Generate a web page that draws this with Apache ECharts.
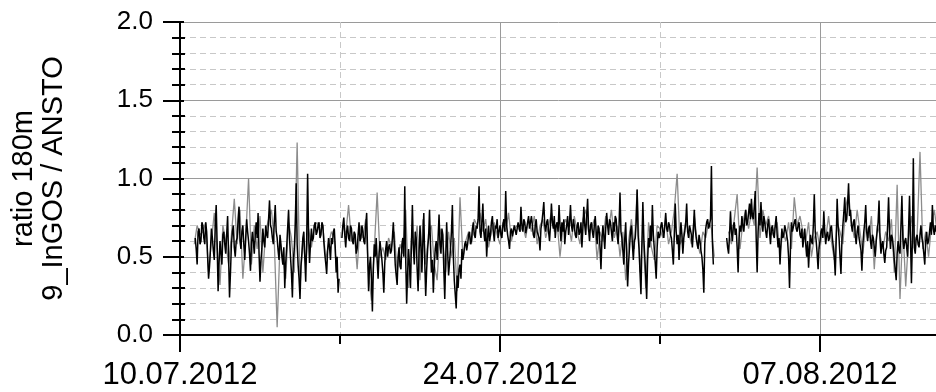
<!DOCTYPE html>
<html>
<head>
<meta charset="utf-8">
<script src="https://cdn.jsdelivr.net/npm/echarts@6/dist/echarts.min.js"></script>
<style>
  html, body { margin: 0; padding: 0; background: #ffffff; overflow: hidden; }
  #chart { width: 936px; height: 392px; }
</style>
</head>
<body>
<div id="chart"></div>
<script>
// Time axis is expressed in days since 10.07.2012 00:00.
const xTickLabels = ['10.07.2012', '24.07.2012', '07.08.2012'];
const yAxisTitle = 'ratio 180m\n9_InGOS / ANSTO';

// Black record: hourly, first value 10.07.2012 16:00 (gaps = null)
const blackStartDay = 16 / 24;
const blackStepDay = 1 / 24;
const blackValues = [
  0.62,0.55, 0.45,0.66, 0.68,0.58, 0.60,0.72,                                                                                          // 10.07
  0.70,0.62, 0.58,0.72, 0.66,0.50, 0.36,0.44, 0.55,0.68, 0.62,0.54, 0.48,0.70, 0.83,0.58, 0.28,0.46, 0.60,0.52, 0.45,0.64, 0.66,0.58,  // 11.07
  0.52,0.64, 0.76,0.50, 0.24,0.40, 0.58,0.66, 0.70,0.56, 0.50,0.60, 0.62,0.74, 0.82,0.60, 0.55,0.66, 0.70,0.58, 0.48,0.62, 0.74,0.66,  // 12.07
  0.60,0.52, 0.41,0.58, 0.66,0.60, 0.52,0.64, 0.72,0.62, 0.78,0.52, 0.34,0.48, 0.55,0.68, 0.60,0.56, 0.70,0.64, 0.62,0.74, 0.86,0.70,  // 13.07
  0.68,0.62, 0.58,0.72, 0.83,0.66, 0.62,0.54, 0.48,0.64, 0.58,0.50, 0.45,0.56, 0.30,0.46, 0.56,0.68, 0.80,0.62, 0.50,0.40, 0.24,0.48,  // 14.07
  0.55,0.70, 0.97,0.58, 0.45,0.36, 0.23,0.44, 0.52,0.62, 0.66,0.50, 0.34,0.60, 1.03,0.64, 0.46,0.58, 0.68,0.60, 0.62,0.70, 0.72,0.64,  // 15.07
  0.66,0.70, 0.72,0.62, 0.64,0.72, 0.70,0.60, 0.52,0.46, 0.39,0.54, 0.62,0.56, 0.48,0.62, 0.58,0.66, 0.68,0.56, 0.40,0.50, 0.27,0.36,  // 16.07
  null,null, 0.62,0.70, 0.75,0.64, 0.56,0.66, 0.70,0.62, 0.60,0.70, 0.68,0.60, 0.58,0.66, 0.64,0.52, 0.55,0.64, 0.72,0.60, 0.62,0.70,  // 17.07
  0.66,0.60, 0.58,0.70, 0.78,0.52, 0.28,0.44, 0.50,0.36, 0.15,0.42, 0.58,0.50, 0.62,0.48, 0.36,0.52, 0.60,0.54, 0.48,0.40, 0.27,0.46,  // 18.07
  0.55,0.60, 0.50,0.56, 0.58,0.52, 0.54,0.62, 0.72,0.58, 0.45,0.38, 0.32,0.50, 0.56,0.44, 0.42,0.58, 0.62,0.50, 0.95,0.48, 0.20,0.40,  // 19.07
  0.55,0.44, 0.30,0.58, 0.83,0.56, 0.45,0.66, 0.62,0.42, 0.28,0.52, 0.70,0.56, 0.40,0.60, 0.78,0.46, 0.25,0.42, 0.55,0.62, 0.80,0.58,  // 20.07
  0.40,0.48, 0.27,0.44, 0.55,0.60, 0.48,0.62, 0.77,0.58, 0.52,0.68, 0.64,0.42, 0.23,0.50, 0.72,0.54, 0.38,0.46, 0.55,0.66, 0.83,0.50,  // 21.07
  0.35,0.26, 0.17,0.38, 0.30,0.42, 0.45,0.36, 0.55,0.48, 0.52,0.58, 0.60,0.54, 0.58,0.64, 0.66,0.58, 0.60,0.68, 0.72,0.64, 0.62,0.70,  // 22.07
  0.68,0.74, 0.95,0.66, 0.62,0.72, 0.84,0.66, 0.60,0.68, 0.50,0.62, 0.70,0.60, 0.64,0.72, 0.76,0.66, 0.60,0.70, 0.68,0.74, 0.62,0.66,  // 23.07
  0.70,0.64, 0.62,0.70, 0.74,0.66, 0.92,0.70, 0.64,0.60, 0.55,0.66, 0.68,0.63, 0.62,0.70, 0.70,0.64, 0.65,0.72, 0.72,0.66, 0.82,0.70,  // 24.07
  0.66,0.74, 0.72,0.65, 0.64,0.72, 0.76,0.68, 0.68,0.76, 0.70,0.64, 0.62,0.70, 0.74,0.66, 0.66,0.62, 0.54,0.68, 0.72,0.78, 0.85,0.70,  // 25.07
  0.66,0.72, 0.74,0.66, 0.60,0.70, 0.84,0.72, 0.68,0.76, 0.62,0.70, 0.72,0.66, 0.83,0.70, 0.60,0.72, 0.66,0.74, 0.58,0.66, 0.70,0.76,  // 26.07
  0.64,0.72, 0.83,0.70, 0.66,0.74, 0.70,0.64, 0.62,0.70, 0.72,0.64, 0.66,0.72, 0.56,0.68, 0.82,0.70, 0.64,0.76, 0.87,0.68, 0.60,0.70,  // 27.07
  0.72,0.66, 0.62,0.70, 0.76,0.66, 0.58,0.70, 0.68,0.56, 0.42,0.60, 0.70,0.64, 0.55,0.68, 0.78,0.70, 0.64,0.74, 0.72,0.66, 0.60,0.72,  // 28.07
  0.66,0.76, 0.74,0.64, 0.58,0.70, 0.91,0.66, 0.62,0.54, 0.45,0.62, 0.72,0.50, 0.31,0.46, 0.56,0.66, 0.70,0.58, 0.48,0.60, 0.62,0.72,  // 29.07
  0.93,0.64, 0.55,0.40, 0.26,0.58, 0.85,0.62, 0.50,0.38, 0.23,0.48, 0.62,0.56, 0.70,0.60, 0.83,0.64, 0.55,0.46, 0.36,0.56, 0.66,0.62,  // 30.07
  0.64,0.70, 0.72,0.66, 0.62,0.70, 0.78,0.68, 0.66,0.72, 0.70,0.64, 0.62,0.54, 0.45,0.64, 0.84,0.66, 0.58,0.64, 0.48,0.62, 0.72,0.64,  // 31.07
  0.52,0.62, 0.66,0.72, 0.84,0.66, 0.62,0.70, 0.70,0.64, 0.56,0.66, 0.80,0.68, 0.62,0.58, 0.55,0.64, 0.60,0.54, 0.50,0.42, 0.27,0.58,  // 01.08
  0.68,0.72, 0.74,0.68, 0.70,0.74, 1.08,0.60, 0.45,null, null,null, null,null, null,null, null,null, null,null, null,null, 0.62,0.56,  // 02.08
  0.52,0.64, 0.79,0.66, 0.60,0.70, 0.72,0.64, 0.68,0.56, 0.40,0.62, 0.70,0.66, 0.76,0.70, 0.66,0.74, 0.80,0.70, 0.72,0.78, 0.84,0.74,  // 03.08
  0.87,0.76, 0.74,0.82, 0.92,0.62, 0.40,0.66, 0.78,0.70, 0.85,0.72, 0.66,0.76, 0.72,0.66, 0.62,0.70, 0.74,0.66, 0.58,0.68, 0.70,0.64,  // 04.08
  0.62,0.70, 0.76,0.64, 0.56,0.62, 0.45,0.58, 0.68,0.62, 0.64,0.70, 0.70,0.64, 0.60,0.50, 0.30,0.56, 0.72,0.66, 0.66,0.72, 0.74,0.68,  // 05.08
  0.66,0.70, 0.72,0.64, 0.62,0.68, 0.56,0.62, 0.68,0.58, 0.50,0.60, 0.43,0.56, 0.64,0.60, 0.58,0.70, 0.90,0.66, 0.60,0.52, 0.42,0.56,  // 06.08
  0.60,0.66, 0.68,0.62, 0.79,0.66, 0.58,0.64, 0.66,0.60, 0.62,0.68, 0.70,0.62, 0.56,0.50, 0.38,0.60, 0.87,0.70, 0.62,0.50, 0.39,0.60,  // 07.08
  0.70,0.78, 0.88,0.72, 0.74,0.84, 0.97,0.76, 0.80,0.70, 0.66,0.72, 0.74,0.64, 0.58,0.66, 0.70,0.62, 0.62,0.54, 0.41,0.58, 0.66,0.72,  // 08.08
  0.83,0.66, 0.60,0.68, 0.70,0.60, 0.55,0.64, 0.62,0.56, 0.50,0.60, 0.66,0.72, 0.86,0.62, 0.52,0.58, 0.60,0.52, 0.46,0.54, 0.56,0.70,  // 09.08
  0.88,0.66, 0.55,0.64, 0.62,0.56, 0.48,0.42, 0.35,0.52, 0.60,0.54, 0.52,0.70, 0.89,0.62, 0.55,0.60, 0.62,0.56, 0.50,0.68, 0.89,0.62,  // 10.08
  0.33,0.60, 1.13,0.56, 0.52,0.62, 0.64,0.58, 0.56,0.64, 0.70,0.62, 0.58,0.52, 0.45,0.60, 0.66,0.58, 0.60,0.66, 0.72,0.64, 0.83,0.68,  // 11.08
  0.64,0.70, 0.66,0.72                                                                                                                 // 12.08
];

// Grey record: 3-hourly, first value 10.07.2012 15:00 (gaps = null)
const greyStartDay = 15 / 24;
const greyStepDay = 3 / 24;
const greyValues = [
  0.58, 0.70, 0.64,                                   // 10.07
  0.66, 0.72, 0.40, 0.60, 0.78, 0.55, 0.32, 0.70,     // 11.07
  0.60, 0.45, 0.64, 0.87, 0.58, 0.80, 0.36, 0.62,     // 12.07
  1.00, 0.45, 0.70, 0.55, 0.76, 0.40, 0.66, 0.74,     // 13.07
  0.80, 0.60, 0.05, 0.58, 0.50, 0.36, 0.72, 0.62,     // 14.07
  0.40, 1.23, 0.30, 0.62, 0.45, 0.68, 0.56, 0.70,     // 15.07
  0.72, 0.66, 0.70, 0.48, 0.58, 0.66, 0.62, 0.36,     // 16.07
  null, 0.70, 0.64, 0.83, 0.60, 0.66, 0.42, 0.70,     // 17.07
  0.62, 0.74, 0.40, 0.22, 0.55, 0.91, 0.50, 0.56,     // 18.07
  0.48, 0.62, 0.56, 0.66, 0.40, 0.58, 0.52, 0.80,     // 19.07
  0.30, 0.62, 0.55, 0.70, 0.35, 0.74, 0.45, 0.65,     // 20.07
  0.70, 0.45, 0.35, 0.68, 0.60, 0.40, 0.66, 0.50,     // 21.07
  0.62, 0.28, 0.88, 0.50, 0.60, 0.66, 0.58, 0.74,     // 22.07
  0.70, 0.78, 0.66, 0.74, 0.56, 0.66, 0.72, 0.64,     // 23.07
  0.58, 0.72, 0.66, 0.78, 0.60, 0.68, 0.70, 0.66,     // 24.07
  0.70, 0.62, 0.74, 0.66, 0.76, 0.58, 0.70, 0.74,     // 25.07
  0.62, 0.70, 0.78, 0.66, 0.72, 0.50, 0.68, 0.74,     // 26.07
  0.70, 0.60, 0.76, 0.66, 0.58, 0.74, 0.80, 0.66,     // 27.07
  0.68, 0.74, 0.48, 0.66, 0.60, 0.76, 0.68, 0.80,     // 28.07
  0.62, 0.70, 0.50, 0.66, 0.35, 0.60, 0.74, 0.55,     // 29.07
  0.93, 0.40, 0.66, 0.30, 0.72, 0.56, 0.48, 0.70,     // 30.07
  0.68, 0.62, 0.74, 0.58, 0.66, 0.80, 1.03, 0.58,     // 31.07
  0.62, 0.72, 0.66, 0.58, 0.76, 0.60, 0.52, 0.66,     // 01.08
  0.62, 0.72, 0.68, 0.50, null, null, null, null,     // 02.08
  0.66, 0.58, 0.74, 0.90, 0.55, 0.72, 0.80, 0.68,     // 03.08
  0.78, 0.70, 1.07, 0.62, 0.80, 0.70, 0.76, 0.64,     // 04.08
  0.68, 0.72, 0.52, 0.66, 0.60, 0.72, 0.55, 0.88,     // 05.08
  0.70, 0.76, 0.66, 0.60, 0.72, 0.50, 0.62, 0.66,     // 06.08
  0.55, 0.70, 0.62, 0.76, 0.60, 0.48, 0.72, 0.66,     // 07.08
  0.58, 0.82, 0.90, 0.72, 0.62, 0.80, 0.66, 0.52,     // 08.08
  0.70, 0.62, 0.76, 0.42, 0.70, 0.64, 0.55, 0.66,     // 09.08
  0.60, 0.74, 0.40, 0.96, 0.23, 0.70, 0.31, 0.62,     // 10.08
  0.76, 0.58, 0.64, 1.17, 0.55, 0.66, 0.50, 0.70,     // 11.08
  0.80, 0.66                                          // 12.08
];

function toPoints(startDay, stepDay, values) {
  return values.map((v, i) => [startDay + i * stepDay, v]);
}

const FONT = '"Liberation Sans", Arial, sans-serif';
const chart = echarts.init(document.getElementById('chart'), null, { renderer: 'canvas' });

chart.setOption({
  animation: false,
  backgroundColor: '#ffffff',
  // the plot runs on past the right edge of the page (35 days wide)
  grid: { left: 180, top: 22, width: 800, height: 313, containLabel: false, outerBoundsMode: 'none' },
  xAxis: {
    type: 'value',
    min: 0,
    max: 35,
    interval: 14,
    axisLine: { show: true, onZero: false, lineStyle: { color: '#000', width: 2 } },
    axisTick: { show: true, length: 17, lineStyle: { color: '#000', width: 2 } },
    minorTick: { show: true, splitNumber: 2, length: 9, lineStyle: { color: '#000', width: 2 } },
    axisLabel: {
      margin: 25,
      fontFamily: FONT,
      fontSize: 31,
      color: '#000',
      formatter: v => xTickLabels[Math.round(v / 14)] || ''
    },
    splitLine: { show: true, lineStyle: { color: '#9a9a9a', width: 1 } },
    minorSplitLine: { show: true, lineStyle: { color: '#c8c8c8', width: 1, type: [6, 4] } }
  },
  yAxis: [
    {
      type: 'value',
      min: 0,
      max: 2,
      interval: 0.5,
      name: yAxisTitle,
      nameLocation: 'middle',
      nameRotate: 90,
      nameGap: 111,
      nameTextStyle: { fontFamily: FONT, fontSize: 29, lineHeight: 30, color: '#000' },
      axisLine: { show: true, lineStyle: { color: '#000', width: 2 } },
      axisTick: { show: true, length: 17, lineStyle: { color: '#000', width: 2 } },
      minorTick: { show: true, splitNumber: 5, length: 8, lineStyle: { color: '#000', width: 2 } },
      axisLabel: {
        margin: 27,
        fontFamily: FONT,
        fontSize: 26,
        color: '#000',
        formatter: v => v.toFixed(1)
      },
      splitLine: { show: true, lineStyle: { color: '#9a9a9a', width: 1 } },
      minorSplitLine: { show: true, lineStyle: { color: '#c8c8c8', width: 1, type: [6, 4] } }
    },
    {
      // same scale, ticks drawn on the inner side so they cross the axis line
      type: 'value',
      position: 'left',
      min: 0,
      max: 2,
      interval: 0.5,
      axisLine: { show: false },
      axisTick: { show: true, inside: true, length: 4, lineStyle: { color: '#000', width: 2 } },
      minorTick: { show: true, splitNumber: 5, length: 5, lineStyle: { color: '#000', width: 2 } },
      axisLabel: { show: false },
      splitLine: { show: false }
    }
  ],
  series: [
    {
      type: 'line',
      name: 'grey',
      data: toPoints(greyStartDay, greyStepDay, greyValues),
      showSymbol: false,
      connectNulls: false,
      lineStyle: { color: '#8c8c8c', width: 1.3 },
      z: 2
    },
    {
      type: 'line',
      name: 'black',
      data: toPoints(blackStartDay, blackStepDay, blackValues),
      showSymbol: false,
      connectNulls: false,
      lineStyle: { color: '#000000', width: 1.5 },
      z: 3
    }
  ]
});
</script>
</body>
</html>
